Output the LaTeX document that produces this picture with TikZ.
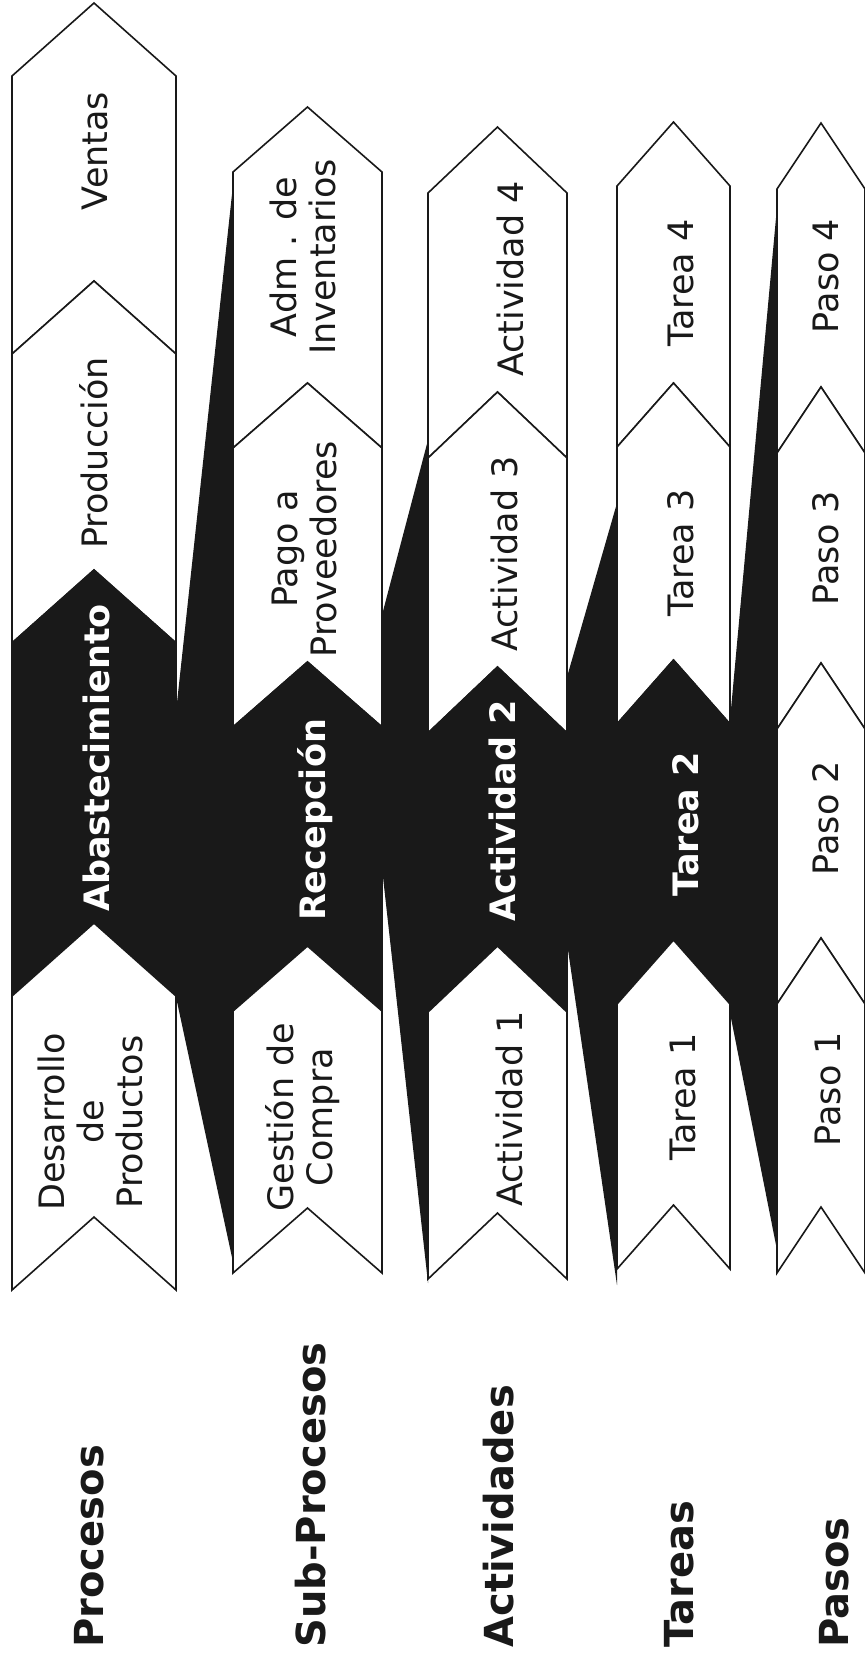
\documentclass[tikz,border=0pt]{standalone}
\usepackage{fontspec}
\setmainfont{DejaVu Sans}
\definecolor{ink}{gray}{0.1}
\newcommand\chevpath[5]{({(#1+#2)/2},#3) -- (#2,{#3+#5}) -- (#2,{#4+#5}) -- ({(#1+#2)/2},#4) -- (#1,{#4+#5}) -- (#1,{#3+#5}) -- cycle}
\tikzset{
  chevw/.style={draw=ink, line width=0.8pt, fill=white, line join=miter},
  chevd/.style={draw=ink, line width=0.8pt, fill=ink, line join=miter},
  wedgefill/.style={fill=ink},
  lbl/.style={rotate=90, inner sep=0pt, text=ink, font=\fontsize{17.5}{19.5}\selectfont},
  lblm/.style={lbl, align=center},
  lblb/.style={rotate=90, inner sep=0pt, text=white, font=\fontsize{17.5}{19.5}\selectfont\bfseries},
  head/.style={rotate=90, anchor=base west, inner sep=0pt, text=ink, font=\fontsize{20}{24}\selectfont\bfseries},
}
\begin{document}
\begin{tikzpicture}[x=0.5pt,y=-0.5pt]
\useasboundingbox[fill=white] (0,0) rectangle (865,1660);
% wedges (zoom connectors)
\fill[wedgefill] (176,712) -- (233,185) -- (233,1262) -- (176,997) -- cycle;
\fill[wedgefill] (382,615) -- (428,440) -- (428,1283) -- (382,868) -- cycle;
\fill[wedgefill] (567,677) -- (617,503) -- (617,1285) -- (567,943) -- cycle;
\fill[wedgefill] (730,720) -- (777,207) -- (777,1250) -- (730,1013) -- cycle;
% column 1
\draw[chevw] \chevpath{12}{176}{3}{281}{73};
\draw[chevw] \chevpath{12}{176}{281}{570}{73};
\draw[chevd] \chevpath{12}{176}{570}{923}{73};
\draw[chevw] \chevpath{12}{176}{923}{1217}{73};
% column 2
\draw[chevw] \chevpath{233}{382}{107}{383}{65};
\draw[chevw] \chevpath{233}{382}{383}{662}{65};
\draw[chevd] \chevpath{233}{382}{662}{946}{65};
\draw[chevw] \chevpath{233}{382}{946}{1208}{65};
% column 3
\draw[chevw] \chevpath{428}{567}{127}{392}{66};
\draw[chevw] \chevpath{428}{567}{392}{667}{66};
\draw[chevd] \chevpath{428}{567}{667}{946}{66};
\draw[chevw] \chevpath{428}{567}{946}{1213}{66};
% column 4
\draw[chevw] \chevpath{617}{730}{122}{383}{64};
\draw[chevw] \chevpath{617}{730}{383}{660}{64};
\draw[chevd] \chevpath{617}{730}{660}{940}{64};
\draw[chevw] \chevpath{617}{730}{940}{1205}{64};
% column 5
\draw[chevw] \chevpath{777}{865}{123}{387}{66};
\draw[chevw] \chevpath{777}{865}{387}{663}{66};
\draw[chevw] \chevpath{777}{865}{663}{938}{66};
\draw[chevw] \chevpath{777}{865}{938}{1207}{66};
% texts column 1
\node[lbl, anchor=base] (ventas) at (107,151) {Ventas};
\node[lbl, anchor=base] (produccion) at (107,453) {Producción};
\node[lblb, anchor=base] (abast) at (109,758) {Abastecimiento};
\node[lblm] (desarrollo) at (90,1122) {Desarrollo\\de\\Productos};
% column 2
\node[lblm] (adm) at (303,257) {Adm . de\\Inventarios};
\node[lblm] (pago) at (304,549) {Pago a\\Proveedores};
\node[lblb, anchor=base] (recep) at (325,820) {Recepción};
\node[lblm] (gestion) at (303,1117) {Gestión de\\Compra};
% column 3
\node[lbl, anchor=base] (act4) at (523,279) {Actividad 4};
\node[lbl, anchor=base] (act3) at (517,554) {Actividad 3};
\node[lblb, anchor=base] (act2) at (515,811) {Actividad 2};
\node[lbl, anchor=base] (act1) at (522,1109) {Actividad 1};
% column 4
\node[lbl, anchor=base] (tar4) at (693,283) {Tarea 4};
\node[lbl, anchor=base] (tar3) at (693,553) {Tarea 3};
\node[lblb, anchor=base] (tar2) at (698,824) {Tarea 2};
\node[lbl, anchor=base] (tar1) at (695,1097) {Tarea 1};
% column 5
\node[lbl, anchor=base] (pas4) at (838,276) {Paso 4};
\node[lbl, anchor=base] (pas3) at (838,548) {Paso 3};
\node[lbl, anchor=base] (pas2) at (838,818) {Paso 2};
\node[lbl, anchor=base] (pas1) at (840,1089) {Paso 1};
% headings
\node[head] (hproc) at (103,1648) {Procesos};
\node[head] (hsub) at (325,1648) {Sub-Procesos};
\node[head] (hact) at (513,1648) {Actividades};
\node[head] (htar) at (693,1648) {Tareas};
\node[head] (hpas) at (848,1648) {Pasos};
\end{tikzpicture}
\end{document}
